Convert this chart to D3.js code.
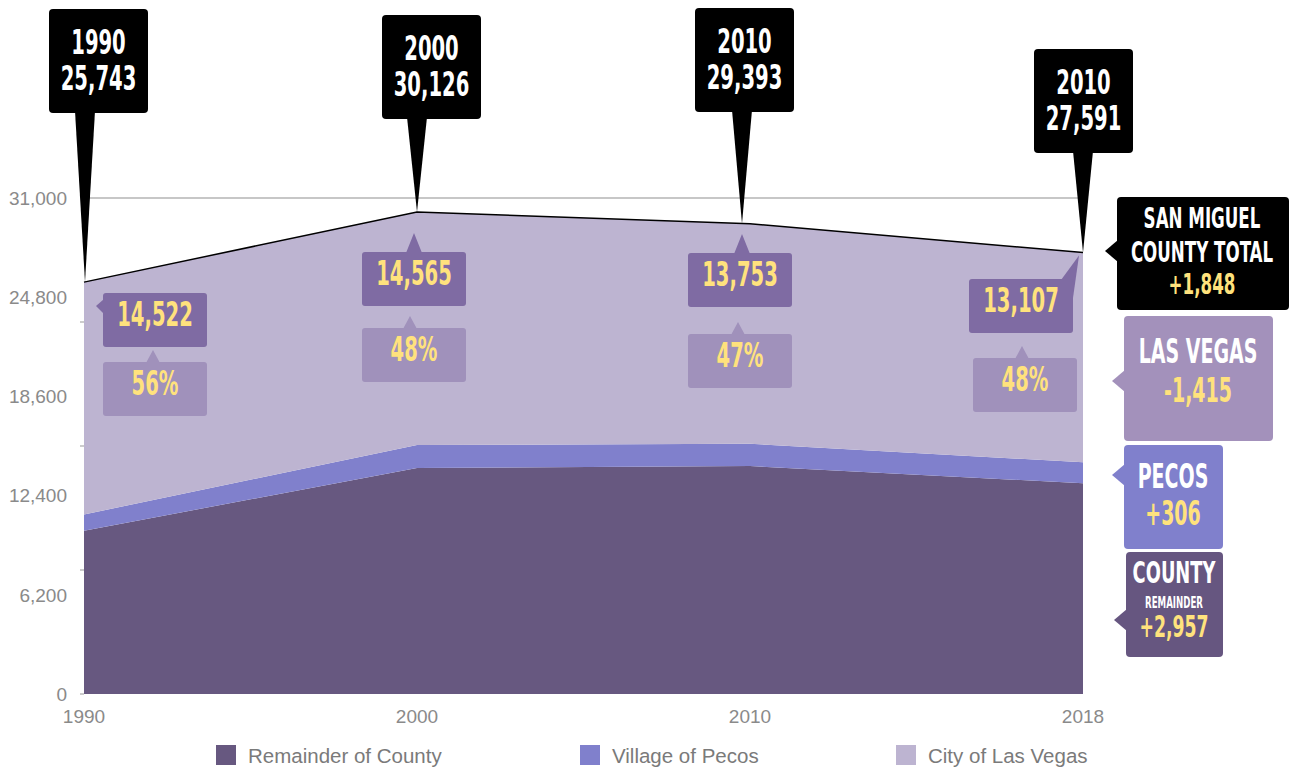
<!DOCTYPE html>
<html>
<head>
<meta charset="utf-8">
<script src="https://cdn.jsdelivr.net/npm/d3@7"></script>
<style>
  html, body { margin: 0; padding: 0; background: #fff; }
  svg { display: block; }
  .cond { font-family: "DejaVu Sans Condensed", "DejaVu Sans", sans-serif; font-weight: bold; }
  .axis-text { font-family: "Liberation Sans", Arial, sans-serif; fill: #8a8a8a; font-size: 19px; }
  .legend-text { font-family: "Liberation Sans", Arial, sans-serif; fill: #7a7a7a; font-size: 20.5px; }
</style>
</head>
<body>
<svg id="chart" width="1290" height="767"></svg>
<script>
// Population of San Miguel County, NM, by census year
const years      = ["1990", "2000", "2010", "2018"];
const pinYears   = ["1990", "2000", "2010", "2010"];
const remainder  = [10209, 14120, 14248, 13166];
const pecos      = [1012, 1441, 1392, 1318];
const lasVegas   = [14522, 14565, 13753, 13107];
const totals     = [25743, 30126, 29393, 27591];
const yTicks     = [0, 6200, 12400, 18600, 24800, 31000];
const minorTicks = [0, 7750, 15500, 23250];
const seriesKeys   = ["remainder", "pecos", "lasVegas"];
const seriesNames  = ["Remainder of County", "Village of Pecos", "City of Las Vegas"];
const seriesColors = ["#675880", "#8080cc", "#bdb4d1"];

const YELLOW = "#ffe27d";
const SX = 0.64; // horizontal squeeze for the condensed display face

const svg = d3.select("#chart");
const x = d3.scalePoint().domain(years).range([84, 1083]);
const y = d3.scaleLinear().domain([0, 31000]).range([694, 198]);

const rows = years.map((yr, i) => ({
  year: yr, remainder: remainder[i], pecos: pecos[i], lasVegas: lasVegas[i]
}));
const stacked = d3.stack().keys(seriesKeys)(rows);

// top gridline
svg.append("line")
  .attr("x1", 84).attr("x2", 1083)
  .attr("y1", y(31000)).attr("y2", y(31000))
  .attr("stroke", "#8f8f8f").attr("stroke-width", 1);

// stacked areas
const area = d3.area()
  .x(d => x(d.data.year))
  .y0(d => y(d[0]))
  .y1(d => y(d[1]));
svg.selectAll("path.layer").data(stacked).join("path")
  .attr("class", "layer")
  .attr("d", area)
  .attr("fill", (d, i) => seriesColors[i]);

// county total outline
svg.append("path")
  .datum(totals)
  .attr("d", d3.line().x((d, i) => x(years[i])).y(d => y(d)))
  .attr("fill", "none").attr("stroke", "#000").attr("stroke-width", 1.5);

// y axis labels and small ticks
svg.selectAll("text.ylab").data(yTicks).join("text")
  .attr("class", "axis-text ylab")
  .attr("x", 67).attr("y", d => y(d))
  .attr("dy", "0.36em")
  .attr("text-anchor", "end")
  .text(d3.format(","));
svg.selectAll("line.minor").data(minorTicks).join("line")
  .attr("class", "minor")
  .attr("x1", 80).attr("x2", 84)
  .attr("y1", d => y(d)).attr("y2", d => y(d))
  .attr("stroke", "#999");

// x axis labels
svg.selectAll("text.xlab").data(years).join("text")
  .attr("class", "axis-text xlab")
  .attr("x", d => x(d)).attr("y", 716)
  .attr("dy", "0.36em")
  .attr("text-anchor", "middle")
  .text(d => d);

// multi-line condensed label: lines = [{t, base, size, color}], baselines absolute
function block(g, cx, lines) {
  const base0 = lines[0].base;
  const t = g.append("text")
    .attr("class", "cond")
    .attr("transform", `translate(${cx},${base0}) scale(${SX},1)`)
    .attr("text-anchor", "middle");
  lines.forEach(l => {
    t.append("tspan")
      .attr("x", 0).attr("y", l.base - base0)
      .attr("font-size", l.size)
      .attr("fill", l.color)
      .text(l.t);
  });
}

// black year/total pins above the chart
const pinLayout = [
  { bx: 49,   by: 9,  dx: 1 },
  { bx: 382,  by: 15, dx: 0 },
  { bx: 695,  by: 8,  dx: -8 },
  { bx: 1034, by: 49, dx: 0 }
];
const pins = svg.append("g");
totals.forEach((t, i) => {
  const L = pinLayout[i];
  const tx = x(years[i]) + L.dx, ty = y(t);
  const w = 99, h = 104;
  pins.append("path")
    .attr("d", `M${tx - 10},${L.by + h - 2} L${tx + 10},${L.by + h - 2} L${tx},${ty} Z`)
    .attr("fill", "#000");
  pins.append("rect")
    .attr("x", L.bx).attr("y", L.by).attr("width", w).attr("height", h)
    .attr("rx", 4).attr("fill", "#000");
  block(pins, L.bx + w / 2, [
    { t: pinYears[i], base: L.by + 45, size: 34, color: "#fff" },
    { t: d3.format(",")(t), base: L.by + 81, size: 34, color: "#fff" }
  ]);
});

// Las Vegas count and share boxes inside the area
const valueLayout = [
  { bx: 103, by: 293, arrow: "left" },
  { bx: 362, by: 252, arrow: "up", ax: 414 },
  { bx: 688, by: 253, arrow: "up", ax: 742 },
  { bx: 969, by: 279, arrow: "corner" }
];
const pctLayout = [
  { bx: 103, by: 362, ax: 153 },
  { bx: 362, by: 328, ax: 410 },
  { bx: 688, by: 334, ax: 738 },
  { bx: 973, by: 358, ax: 1022 }
];
const inner = svg.append("g");
const BW = 104, BH = 54;
lasVegas.forEach((v, i) => {
  const L = valueLayout[i];
  const c = "#7f6ba3";
  if (L.arrow === "left") {
    inner.append("path")
      .attr("d", `M${L.bx + 1},${L.by + 6} L${L.bx - 7},${L.by + 13} L${L.bx + 1},${L.by + 21} Z`)
      .attr("fill", c);
  } else if (L.arrow === "up") {
    inner.append("path")
      .attr("d", `M${L.ax - 8},${L.by + 1} L${L.ax},${L.by - 19} L${L.ax + 8},${L.by + 1} Z`)
      .attr("fill", c);
  } else {
    const px = x(years[i]) - 4, py = y(totals[i]) + 3;
    inner.append("path")
      .attr("d", `M${L.bx + BW - 12},${L.by + 1} L${px},${py} L${L.bx + BW - 1},${L.by + 26} Z`)
      .attr("fill", c);
  }
  inner.append("rect")
    .attr("x", L.bx).attr("y", L.by).attr("width", BW).attr("height", BH)
    .attr("rx", 3).attr("fill", c);
  block(inner, L.bx + BW / 2, [{ t: d3.format(",")(v), base: L.by + 33, size: 34, color: YELLOW }]);

  const P = pctLayout[i];
  const pc = "#a091bb";
  inner.append("path")
    .attr("d", `M${P.ax - 7},${P.by + 1} L${P.ax},${P.by - 12} L${P.ax + 7},${P.by + 1} Z`)
    .attr("fill", pc);
  inner.append("rect")
    .attr("x", P.bx).attr("y", P.by).attr("width", BW).attr("height", BH)
    .attr("rx", 3).attr("fill", pc);
  block(inner, P.bx + BW / 2, [{ t: Math.round(v / totals[i] * 100) + "%", base: P.by + 33, size: 34, color: YELLOW }]);
});

// change 1990–2018 boxes on the right
const chg = (arr) => {
  const d = arr[arr.length - 1] - arr[0];
  return (d >= 0 ? "+" : "-") + d3.format(",")(Math.abs(d));
};
const side = svg.append("g");
function sideBox(bx, by, w, h, color, ay) {
  side.append("path")
    .attr("d", `M${bx + 1},${ay - 11} L${bx - 12},${ay} L${bx + 1},${ay + 11} Z`)
    .attr("fill", color);
  side.append("rect")
    .attr("x", bx).attr("y", by).attr("width", w).attr("height", h)
    .attr("rx", 4).attr("fill", color);
}
// county total
sideBox(1117, 197, 172, 113, "#000", 251);
block(side, 1202, [
  { t: "SAN MIGUEL", base: 228, size: 29, color: "#fff" },
  { t: "COUNTY TOTAL", base: 262, size: 29, color: "#fff" },
  { t: chg(totals), base: 294, size: 29, color: YELLOW }
]);
// Las Vegas
sideBox(1124, 316, 149, 125, "#a391bb", 381);
block(side, 1198, [
  { t: "LAS VEGAS", base: 363, size: 33, color: "#fff" },
  { t: chg(lasVegas), base: 402, size: 33, color: YELLOW }
]);
// Pecos
sideBox(1124, 445, 99, 104, "#8080cc", 475);
block(side, 1173, [
  { t: "PECOS", base: 488, size: 33, color: "#fff" },
  { t: chg(pecos), base: 525, size: 33, color: YELLOW }
]);
// remainder of county
sideBox(1126, 552, 97, 105, "#665680", 620);
block(side, 1174, [
  { t: "COUNTY", base: 583, size: 31, color: "#fff" },
  { t: "REMAINDER", base: 608, size: 15, color: "#fff" },
  { t: chg(remainder), base: 637, size: 30, color: YELLOW }
]);

// legend
const legendX = [216, 580, 896];
const lg = svg.append("g");
seriesNames.forEach((n, i) => {
  lg.append("rect")
    .attr("x", legendX[i]).attr("y", 745).attr("width", 20).attr("height", 20)
    .attr("fill", seriesColors[i]);
  lg.append("text")
    .attr("class", "legend-text")
    .attr("x", legendX[i] + 32).attr("y", 756)
    .attr("dy", "0.36em")
    .text(n);
});
</script>
</body>
</html>
